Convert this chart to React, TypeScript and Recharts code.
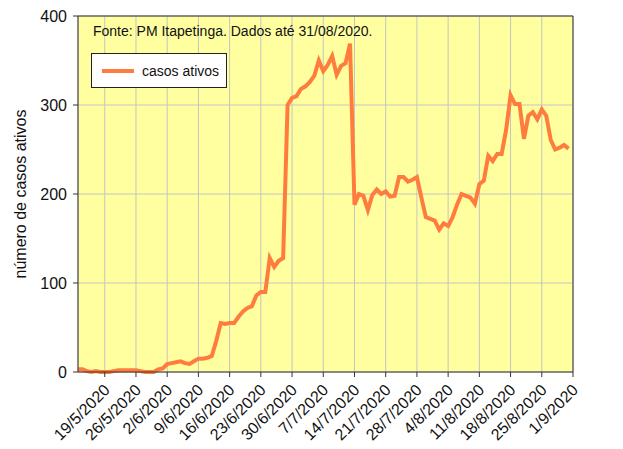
import { LineChart, Line, XAxis, YAxis, CartesianGrid, ReferenceLine } from 'recharts'

// day 0 = 13/5/2020, one value per day until 31/8/2020
const activeCases = [
  3, 3, 1, 0, 1, 0, 0, 0, 1, 2, 2, 2, 2, 2, 1, 0, 0, 0, 3, 4,
  9, 10, 11, 12, 10, 9, 12, 15, 15, 16, 18, 35, 55, 54, 55, 55, 62, 68, 72, 74,
  86, 90, 90, 128, 118, 125, 128, 300, 308, 310, 318, 321, 326, 333, 350, 338, 345, 355, 334, 344,
  347, 369, 188, 200, 198, 182, 199, 205, 200, 203, 197, 198, 219, 219, 214, 216, 219, 196, 174, 172,
  170, 160, 167, 164, 174, 188, 200, 198, 196, 189, 211, 215, 243, 237, 245, 245, 272, 311, 301, 301,
  262, 288, 292, 284, 295, 288, 261, 250, 252, 255, 251,
]

const tickDays = [6, 13, 20, 27, 34, 41, 48, 55, 62, 69, 76, 83, 90, 97, 104, 111]
const tickLabels = [
  '19/5/2020', '26/5/2020', '2/6/2020', '9/6/2020', '16/6/2020', '23/6/2020', '30/6/2020', '7/7/2020',
  '14/7/2020', '21/7/2020', '28/7/2020', '4/8/2020', '11/8/2020', '18/8/2020', '25/8/2020', '1/9/2020',
]
const yTicks = [0, 100, 200, 300, 400]

const data = activeCases.map((v, i) => ({ day: i, casos: v }))

const FONT = '"Liberation Sans", Arial, sans-serif'
const LINE_COLOR = '#ff7c3f'

const DateTick = (props: any) => {
  const { x, y, payload } = props
  const idx = tickDays.indexOf(payload.value)
  const ax = x + 6
  const ay = y + 12
  return (
    <text
      x={ax}
      y={ay}
      transform={`rotate(-45, ${ax}, ${ay})`}
      textAnchor="end"
      fontSize={16}
      fontFamily={FONT}
      fill="#111"
    >
      {idx >= 0 ? tickLabels[idx] : ''}
    </text>
  )
}

export default function App() {
  return (
    <div style={{ position: 'relative', width: 623, height: 449, background: '#fff' }}>
      <style>{'body{margin:0}'}</style>
      <LineChart width={623} height={449} data={data} margin={{ top: 16, right: 0, bottom: 0, left: 0 }}>
        <CartesianGrid yAxisId="left" stroke="#c4c4c4" fill="#ffffa0" fillOpacity={1} />
        <XAxis
          dataKey="day"
          type="number"
          domain={[0, 111]}
          ticks={tickDays}
          interval={0}
          height={77}
          tick={<DateTick />}
          stroke="#333"
          tickSize={5}
        />
        <YAxis
          yAxisId="left"
          domain={[0, 400]}
          ticks={yTicks}
          width={78}
          stroke="#333"
          tickSize={5}
          tickMargin={6}
          tick={{ fontSize: 16, fontFamily: FONT, fill: '#111' }}
          label={{
            value: 'número de casos ativos',
            angle: -90,
            position: 'insideLeft',
            offset: 20,
            style: { textAnchor: 'middle', fontSize: 16, fontFamily: FONT, fill: '#111' },
          }}
        />
        <YAxis
          yAxisId="right"
          orientation="right"
          domain={[0, 400]}
          ticks={yTicks}
          width={50}
          stroke="#333"
          tickSize={5}
          tickMargin={6}
          tick={{ fontSize: 16, fontFamily: FONT, fill: '#111', textAnchor: 'start' }}
        />
        <ReferenceLine yAxisId="left" y={400} stroke="#333" />
        <Line
          yAxisId="left"
          type="linear"
          dataKey="casos"
          stroke={LINE_COLOR}
          strokeWidth={4}
          dot={false}
          isAnimationActive={false}
        />
      </LineChart>
      <div style={{
        position: 'absolute',
        left: 93,
        top: 23,
        fontFamily: FONT,
        fontSize: 14,
        color: '#111',
        whiteSpace: 'nowrap',
      }}>
        Fonte: PM Itapetinga. Dados até 31/08/2020.
      </div>
      {/* legend */}
      <div style={{
        position: 'absolute',
        left: 91,
        top: 53,
        width: 136,
        height: 35,
        background: '#fff',
        border: '1px solid #222',
        display: 'flex',
        alignItems: 'center',
        boxSizing: 'border-box',
        fontFamily: FONT,
        fontSize: 14,
        color: '#111',
      }}>
        <div style={{ width: 32, height: 4, background: LINE_COLOR, marginLeft: 10, marginRight: 8 }} />
        casos ativos
      </div>
    </div>
  )
}
